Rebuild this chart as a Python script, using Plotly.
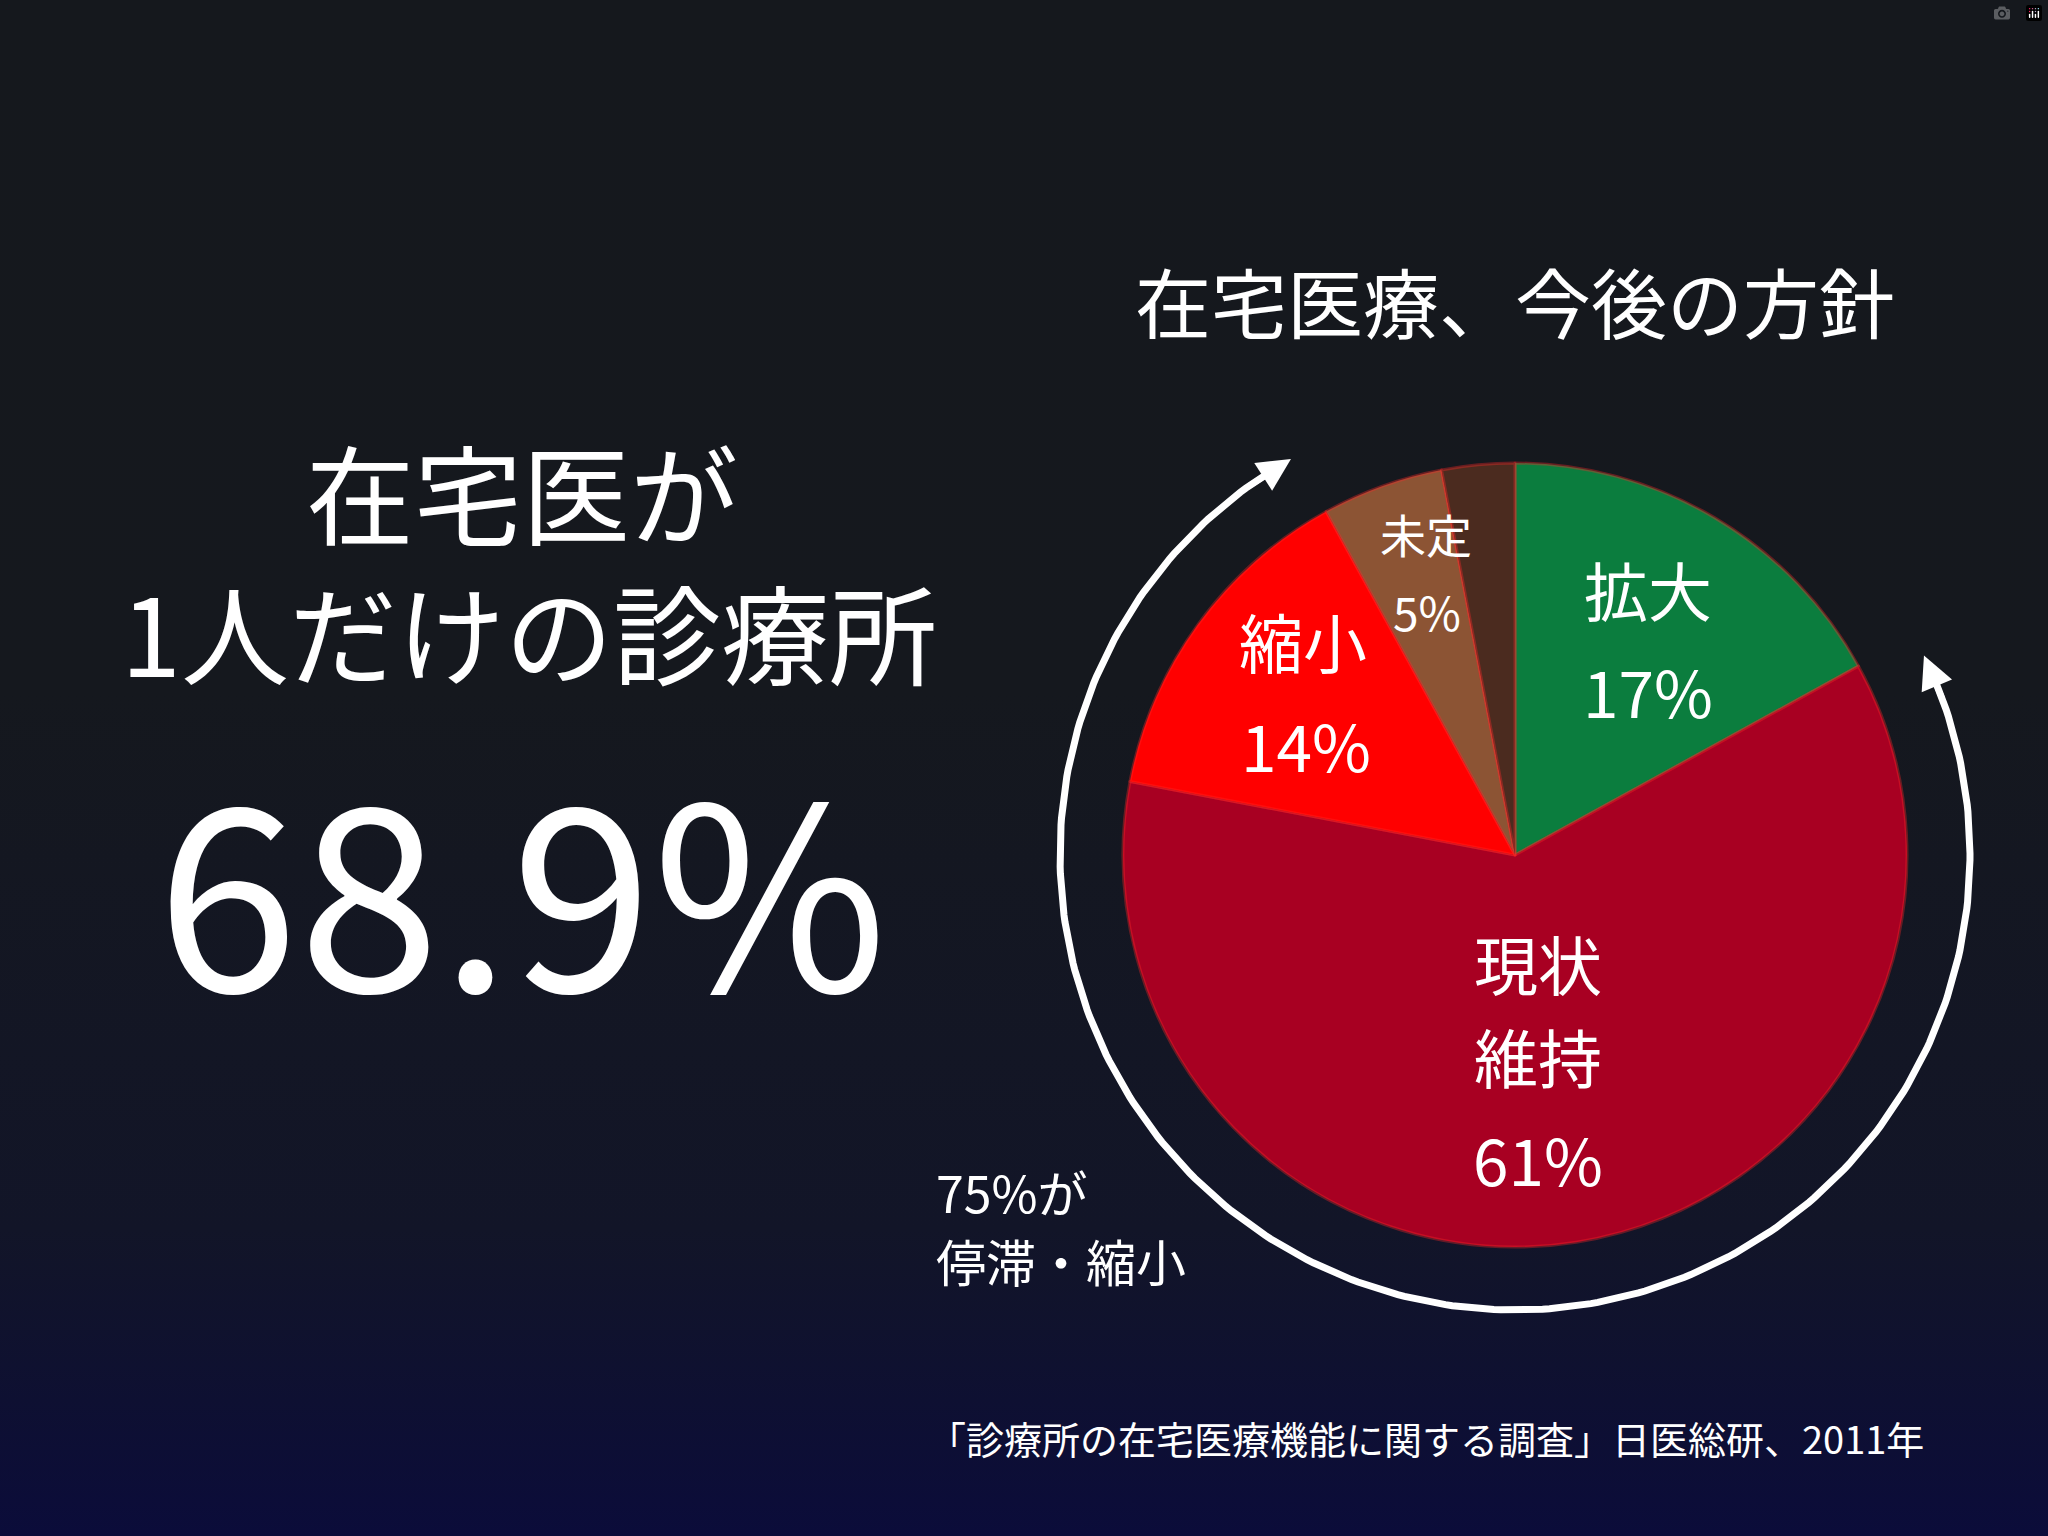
import numpy as np
import plotly.graph_objects as go

W, H = 2048, 1536
FONT = "Noto Sans CJK JP"

# ── Data ──────────────────────────────────────────────
SLICE_NAMES = ["拡大", "現状維持", "縮小", "未定", "無回答"]
SLICE_VALUES = [17, 61, 14, 5, 3]
SLICE_COLORS = ["#0b7d3e", "#a80022", "#ff0000", "#8c5434", "#4b2b1f"]

HEADLINE = ["在宅医が", "1人だけの診療所"]
BIG_NUMBER = "68.9%"
CHART_TITLE = "在宅医療、今後の方針"
NOTE = ["75%が", "停滞・縮小"]
SOURCE = "「診療所の在宅医療機能に関する調査」日医総研、2011年"

fig = go.Figure()

# background gradient (dark charcoal to navy at the bottom)
fig.add_trace(go.Scatter(
    x=[0, W, W, 0, 0], y=[0, 0, H, H, 0], mode="lines", line=dict(width=0),
    fill="toself", hoverinfo="skip", showlegend=False,
    fillgradient=dict(type="vertical",
                      colorscale=[[0, "#0b0c3a"], [0.2, "#121528"], [0.55, "#15181e"], [1, "#15181d"]]),
))

# pie (clockwise from 12 o'clock)
cx, cy, r = 1515, 681, 392
fig.add_trace(go.Pie(
    labels=SLICE_NAMES, values=SLICE_VALUES, sort=False, direction="clockwise", rotation=0,
    marker=dict(colors=SLICE_COLORS, line=dict(color="rgba(255,40,40,0.35)", width=3)),
    textinfo="none", showlegend=False, hoverinfo="label+percent",
    domain=dict(x=[(cx - r) / W, (cx + r) / W], y=[(cy - r) / H, (cy + r) / H]),
))

# white arc around the pie, arrowheads at both ends
R = 455
t = np.radians(np.linspace(121, 383, 300))
fig.add_trace(go.Scatter(x=cx + R * np.cos(t), y=cy + R * np.sin(t), mode="lines",
                         line=dict(color="white", width=7), hoverinfo="skip", showlegend=False))
for a_end, a_prev in [(119.5, 126), (386, 380)]:
    e, p = np.radians(a_end), np.radians(a_prev)
    fig.add_annotation(x=cx + R * np.cos(e), y=cy + R * np.sin(e),
                       ax=cx + R * np.cos(p), ay=cy + R * np.sin(p),
                       xref="x", yref="y", axref="x", ayref="y", text="",
                       showarrow=True, arrowhead=2, arrowsize=1.1, arrowwidth=6, arrowcolor="white")

def txt(s, x, y, size, anchor="center"):
    fig.add_annotation(x=x, y=H - y, text=s, showarrow=False, xanchor=anchor,
                       font=dict(family=FONT, size=size, color="white"))

txt(HEADLINE[0], 522, 490, 108)
txt(HEADLINE[1], 529, 630, 108)
txt(BIG_NUMBER, 522, 880, 255)
txt(CHART_TITLE, 1515, 300, 76)
txt(NOTE[0], 934, 1191, 50, "left")
txt(NOTE[1], 934, 1260, 50, "left")
txt(SOURCE, 1926, 1437, 38, "right")

# slice labels
txt("拡大", 1648, 588, 64)
txt("17%", 1648, 690, 64)
txt("縮小", 1303, 640, 64)
txt("14%", 1306, 744, 64)
txt("未定", 1426, 533, 46)
txt("5%", 1427, 611, 46)
txt("現状", 1538, 962, 64)
txt("維持", 1538, 1055, 64)
txt("61%", 1538, 1158, 64)

fig.update_xaxes(range=[0, W], visible=False, fixedrange=True)
fig.update_yaxes(range=[0, H], visible=False, fixedrange=True)
fig.update_layout(width=W, height=H, margin=dict(l=0, r=0, t=0, b=0),
                  paper_bgcolor="#15181d", plot_bgcolor="#15181d",
                  font=dict(family=FONT, color="white"))

fig.write_html("out.html",
               post_script="document.body.style.margin='0';document.body.style.background='#15181d';")
